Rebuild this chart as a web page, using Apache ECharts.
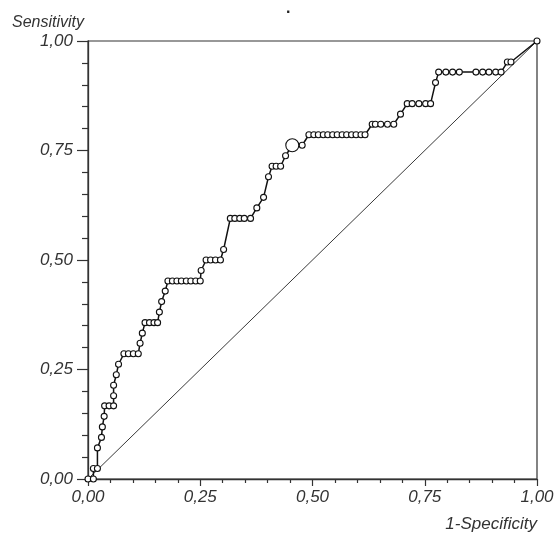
<!DOCTYPE html>
<html>
<head>
<meta charset="utf-8">
<script src="https://cdn.jsdelivr.net/npm/echarts@6/dist/echarts.min.js"></script>
<style>
    html, body { margin: 0; padding: 0; background: #fff; }
    #chart { width: 557px; height: 536px; }
</style>
</head>
<body>
<div id="chart"></div>
<script>
    // ROC curve points: 1-specificity (x) and sensitivity (y)
    const fpr = [0, 0.012, 0.012, 0.021, 0.021, 0.030, 0.032, 0.036, 0.037, 0.047, 0.057, 0.057, 0.057, 0.063, 0.068,
        0.080, 0.090, 0.101, 0.112, 0.116, 0.121, 0.127, 0.137, 0.147, 0.155, 0.159, 0.164, 0.172,
        0.178, 0.188, 0.198, 0.208, 0.219, 0.229, 0.240, 0.250, 0.252, 0.263, 0.273, 0.284, 0.295, 0.302,
        0.317, 0.327, 0.338, 0.348, 0.362, 0.376, 0.391, 0.402, 0.410, 0.419, 0.429, 0.440, 0.455, 0.477,
        0.492, 0.503, 0.513, 0.524, 0.534, 0.545, 0.555, 0.566, 0.576, 0.587, 0.597, 0.608, 0.617,
        0.633, 0.640, 0.652, 0.667, 0.681, 0.696, 0.711, 0.722, 0.737, 0.752, 0.763, 0.774,
        0.781, 0.797, 0.812, 0.827, 0.864, 0.879, 0.893, 0.908, 0.920, 0.934, 0.942, 1];
    const tpr = [0, 0, 0.024, 0.024, 0.071, 0.095, 0.119, 0.143, 0.167, 0.167, 0.167, 0.190, 0.214, 0.238, 0.262,
        0.286, 0.286, 0.286, 0.286, 0.310, 0.333, 0.357, 0.357, 0.357, 0.357, 0.381, 0.405, 0.429,
        0.452, 0.452, 0.452, 0.452, 0.452, 0.452, 0.452, 0.452, 0.476, 0.500, 0.500, 0.500, 0.500, 0.524,
        0.595, 0.595, 0.595, 0.595, 0.595, 0.619, 0.643, 0.690, 0.714, 0.714, 0.714, 0.738, 0.762, 0.762,
        0.786, 0.786, 0.786, 0.786, 0.786, 0.786, 0.786, 0.786, 0.786, 0.786, 0.786, 0.786, 0.786,
        0.810, 0.810, 0.810, 0.810, 0.810, 0.833, 0.857, 0.857, 0.857, 0.857, 0.857, 0.905,
        0.929, 0.929, 0.929, 0.929, 0.929, 0.929, 0.929, 0.929, 0.929, 0.952, 0.952, 1];
    const optimalPoint = [0.455, 0.762];
    const diagonalX = [0, 1];
    const diagonalY = [0, 1];
    const tickLabels = ['0,00', '0,25', '0,50', '0,75', '1,00'];

    const txtColor = '#333';
    const fnt = 'Arial, "Liberation Sans", sans-serif';

    function tickFmt(v) {
        let i = Math.round(v / 0.25);
        return tickLabels[i] || '';
    }

    let myChart = echarts.init(document.getElementById('chart'));
    myChart.setOption({
        animation: false,
        title: {
            text: '.',
            left: 281,
            top: -4,
            textStyle: {fontSize: 16, fontWeight: 'bold', color: '#222'}
        },
        grid: {
            left: 88, right: 20, top: 41, bottom: 57,
            show: true,
            borderColor: '#333',
            borderWidth: 1.2
        },
        xAxis: {
            type: 'value',
            min: 0, max: 1, interval: 0.25,
            name: '1-Specificity',
            nameLocation: 'end',
            nameGap: 0,
            nameTextStyle: {
                fontFamily: fnt, fontStyle: 'italic', fontSize: 17, color: txtColor,
                align: 'right', verticalAlign: 'top', padding: [37, 0, 0, 0]
            },
            axisLine: {lineStyle: {color: '#333', width: 1.3}},
            axisTick: {show: true, length: 7, lineStyle: {color: '#333', width: 1.2}},
            minorTick: {show: true, splitNumber: 5, length: 4, lineStyle: {color: '#333', width: 1.2}},
            splitLine: {show: false},
            axisLabel: {
                formatter: tickFmt, margin: 10,
                fontFamily: fnt, fontStyle: 'italic', fontSize: 17, color: txtColor
            }
        },
        yAxis: {
            type: 'value',
            min: 0, max: 1, interval: 0.25,
            name: 'Sensitivity',
            nameLocation: 'end',
            nameGap: 10,
            nameTextStyle: {
                fontFamily: fnt, fontStyle: 'italic', fontSize: 16, color: txtColor,
                align: 'left', padding: [0, 0, 0, -76]
            },
            axisLine: {lineStyle: {color: '#333', width: 1.3}},
            axisTick: {show: true, length: 11, lineStyle: {color: '#333', width: 1.2}},
            minorTick: {show: true, splitNumber: 5, length: 6, lineStyle: {color: '#333', width: 1.2}},
            splitLine: {show: false},
            axisLabel: {
                formatter: tickFmt, margin: 15,
                fontFamily: fnt, fontStyle: 'italic', fontSize: 17, color: txtColor
            }
        },
        series: [
            {
                type: 'line',
                data: diagonalX.map((x, i) => [x, diagonalY[i]]),
                showSymbol: false,
                lineStyle: {color: '#222', width: 0.9},
                silent: true
            },
            {
                type: 'line',
                data: fpr.map((x, i) => [x, tpr[i]]),
                symbol: 'circle',
                symbolSize: 6,
                itemStyle: {color: '#fff', borderColor: '#111', borderWidth: 1.1},
                lineStyle: {color: '#111', width: 1.5}
            },
            {
                type: 'scatter',
                z: 10,
                data: [optimalPoint],
                symbol: 'circle',
                symbolSize: 13,
                itemStyle: {color: '#fff', opacity: 1, borderColor: '#111', borderWidth: 1.1}
            }
        ]
    });
</script>
</body>
</html>
